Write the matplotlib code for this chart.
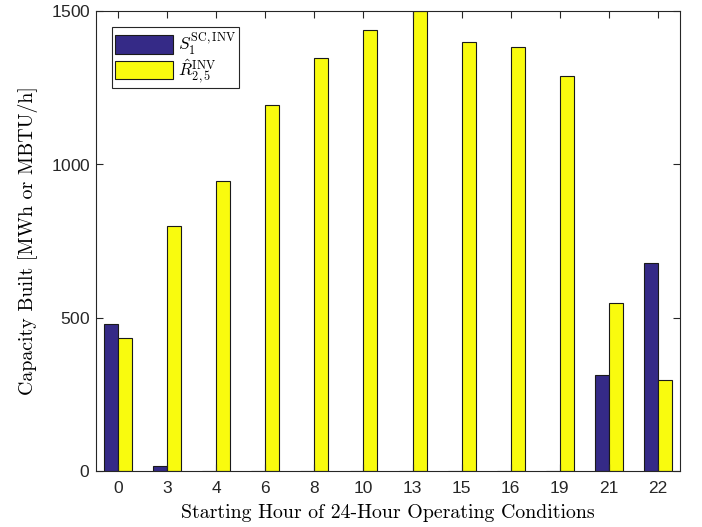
import matplotlib
matplotlib.use('Agg')
import matplotlib.pyplot as plt
import numpy as np

plt.rcParams['mathtext.fontset'] = 'cm'
plt.rcParams['axes.formatter.use_mathtext'] = True

hours = ['0', '3', '4', '6', '8', '10', '13', '15', '16', '19', '21', '22']
s_sc_inv = [479, 16, 0, 0, 0, 0, 0, 0, 0, 0, 313, 678]
r_inv = [434, 799, 946, 1193, 1347, 1438, 1500, 1399, 1382, 1288, 548, 297]

C_BLUE = '#352A87'
C_YELLOW = '#F9FB0E'

fig = plt.figure(figsize=(7.02, 5.27), dpi=100)
ax = fig.add_axes([0.1368, 0.1063, 0.8319, 0.8729])

x = np.arange(len(hours))
w = 0.285
ax.bar(x - w / 2, s_sc_inv, w, color=C_BLUE, edgecolor='#1a1a1a', linewidth=0.8,
       label=r'$S_1^{\mathrm{SC,INV}}$')
ax.bar(x + w / 2, r_inv, w, color=C_YELLOW, edgecolor='#1a1a1a', linewidth=0.8,
       label=r'$\hat{R}_{2,5}^{\mathrm{INV}}$')

ax.set_xlim(-0.45, len(hours) - 0.55)
ax.set_ylim(0, 1500)
ax.set_xticks(x)
ax.set_xticklabels(hours)
ax.set_yticks([0, 500, 1000, 1500])

for sp in ax.spines.values():
    sp.set_color('#262626')
    sp.set_linewidth(0.8)
ax.tick_params(direction='in', length=5, width=0.8, top=True, right=True,
               labelsize=12.5, colors='#262626', labelcolor='#262626')
ax.tick_params(axis='x', pad=7)
ax.tick_params(axis='y', pad=4)
for lbl in ax.get_xticklabels() + ax.get_yticklabels():
    lbl.set_fontfamily('Liberation Sans')

ax.set_xlabel('Starting Hour of 24-Hour Operating Conditions', fontfamily='cmr10',
              fontsize=14.3, labelpad=6)
ax.set_ylabel('Capacity Built [MWh or MBTU/h]', fontfamily='cmr10', fontsize=14.3,
              labelpad=9)

leg = ax.legend(loc='upper left', bbox_to_anchor=(0.027, 0.966), fontsize=12.5,
                fancybox=False, framealpha=1, edgecolor='#262626',
                handlelength=3.3, handleheight=1.3, handletextpad=0.3,
                borderpad=0.2, labelspacing=0.0, borderaxespad=0)
leg.get_frame().set_linewidth(0.8)

fig.savefig('out.png', dpi=100)
